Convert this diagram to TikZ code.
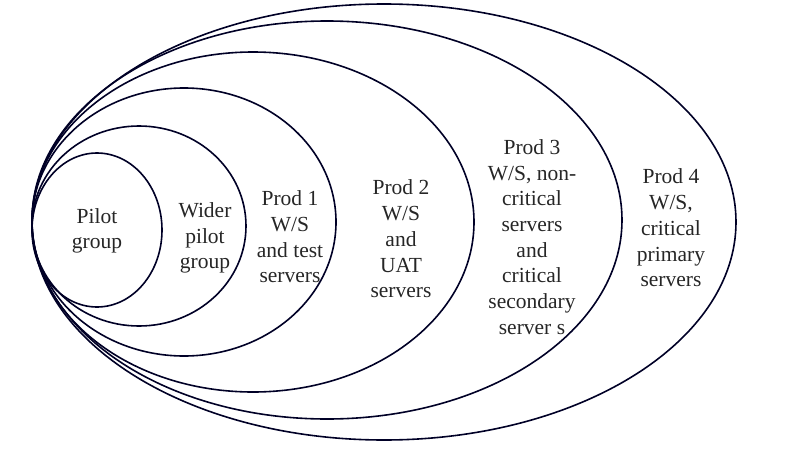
\documentclass[tikz,border=0pt]{standalone}
\usepackage{fontspec}
\setmainfont{Liberation Serif}
\begin{document}
\begin{tikzpicture}[x=1pt,y=-1pt,
  ring/.style={draw=black!85!blue,line width=1.6pt},
  lbl/.style={align=center,font=\fontsize{21.5}{25.7}\selectfont,text=black!85}]
\useasboundingbox (0,0) rectangle (801,450);
\draw[ring] (384,222) ellipse [x radius=352,y radius=218];
\draw[ring] (327,220) ellipse [x radius=295,y radius=199];
\draw[ring] (253,222) ellipse [x radius=221,y radius=170];
\draw[ring] (184,222) ellipse [x radius=152,y radius=134];
\draw[ring] (139,226) ellipse [x radius=107,y radius=100];
\draw[ring] (97,230) ellipse [x radius=65,y radius=77];
\node[lbl] (p) at (97,231) {Pilot\\group};
\node[lbl] (w) at (205,238) {Wider\\pilot\\group};
\node[lbl] (p1) at (290,237) {Prod 1\\W/S\\and test\\servers};
\node[lbl] (p2) at (401,239) {Prod 2\\W/S\\and\\UAT\\servers};
\node[lbl] (p3) at (532,237) {Prod 3\\W/S, non-\\critical\\servers\\and\\critical\\secondary\\server s};
\node[lbl] (p4) at (671,228) {Prod 4\\W/S,\\critical\\primary\\servers};
\end{tikzpicture}
\end{document}
